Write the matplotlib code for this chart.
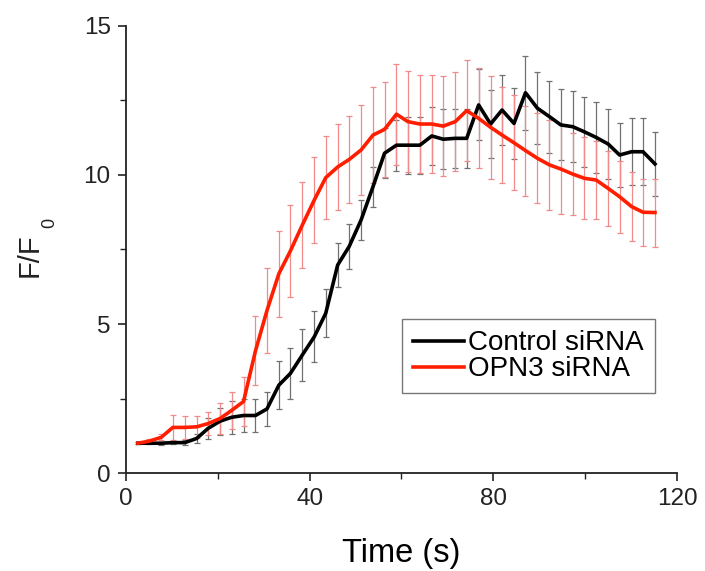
import matplotlib.pyplot as plt
from matplotlib.ticker import MultipleLocator

plt.rcParams['font.family'] = ['Liberation Sans', 'DejaVu Sans']

# time points (s)
time_s = [2.6, 5.1, 7.7, 10.2, 12.8, 15.4, 17.9, 20.5, 23.0, 25.6,
          28.2, 30.7, 33.3, 35.8, 38.4, 41.0, 43.5, 46.1, 48.6, 51.2,
          53.8, 56.3, 58.9, 61.4, 64.0, 66.6, 69.1, 71.7, 74.2, 76.8,
          79.4, 81.9, 84.5, 87.0, 89.6, 92.2, 94.7, 97.3, 99.8, 102.4,
          105.0, 107.5, 110.1, 112.6, 115.2]

# Control siRNA
control_mean = [1.0, 1.0, 1.0, 1.02, 1.02, 1.16, 1.5, 1.74, 1.87, 1.93,
                1.93, 2.15, 2.95, 3.34, 3.96, 4.57, 5.36, 6.98, 7.6, 8.49,
                9.61, 10.73, 11.0, 11.0, 11.0, 11.31, 11.2, 11.23, 11.23, 12.35,
                11.71, 12.18, 11.73, 12.76, 12.24, 11.96, 11.68, 11.62, 11.45, 11.26,
                11.04, 10.67, 10.78, 10.78, 10.37]
control_err = [0.03, 0.03, 0.05, 0.06, 0.08, 0.15, 0.35, 0.45, 0.55, 0.56,
               0.56, 0.57, 0.81, 0.85, 0.87, 0.86, 0.8, 0.75, 0.77, 0.67,
               0.67, 0.84, 0.86, 0.95, 0.95, 0.98, 1.0, 1.0, 1.0, 1.19,
               1.15, 1.18, 1.2, 1.24, 1.2, 1.21, 1.19, 1.2, 1.17, 1.2,
               1.17, 1.06, 1.13, 1.13, 1.06]

# OPN3 siRNA
opn3_mean = [1.0, 1.07, 1.2, 1.53, 1.53, 1.55, 1.66, 1.83, 2.1, 2.4,
             4.1, 5.45, 6.69, 7.45, 8.32, 9.16, 9.91, 10.27, 10.52, 10.84,
             11.34, 11.53, 12.04, 11.79, 11.71, 11.71, 11.64, 11.79, 12.16, 11.9,
             11.6, 11.34, 11.08, 10.82, 10.56, 10.34, 10.2, 10.03, 9.89, 9.83,
             9.55, 9.27, 8.94, 8.75, 8.74]
opn3_err = [0.03, 0.06, 0.1, 0.43, 0.38, 0.36, 0.39, 0.52, 0.62, 0.82,
            1.16, 1.43, 1.44, 1.53, 1.45, 1.45, 1.4, 1.44, 1.47, 1.51,
            1.62, 1.6, 1.7, 1.7, 1.64, 1.65, 1.69, 1.67, 1.69, 1.68,
            1.72, 1.6, 1.6, 1.51, 1.51, 1.51, 1.51, 1.37, 1.37, 1.31,
            1.26, 1.2, 1.16, 1.13, 1.14]

fig = plt.figure(figsize=(7.05, 5.71), dpi=100)
ax = fig.add_axes([0.1787, 0.1716, 0.7816, 0.7829])

# error bars behind the lines
ax.errorbar(time_s, control_mean, yerr=control_err, fmt='none',
            ecolor='#707070', elinewidth=0.9, capsize=2.5, capthick=0.9, zorder=1)
ax.errorbar(time_s, opn3_mean, yerr=opn3_err, fmt='none',
            ecolor='#f28a8a', elinewidth=0.9, capsize=2.5, capthick=0.9, zorder=1)

ax.plot(time_s, control_mean, color='black', lw=2.6, label='Control siRNA', zorder=3)
ax.plot(time_s, opn3_mean, color='#ff1e00', lw=2.6, label='OPN3 siRNA', zorder=4)

ax.set_xlim(0, 120)
ax.set_ylim(0, 15)
ax.xaxis.set_major_locator(MultipleLocator(40))
ax.xaxis.set_minor_locator(MultipleLocator(20))
ax.yaxis.set_major_locator(MultipleLocator(5))
ax.yaxis.set_minor_locator(MultipleLocator(2.5))

for side in ['top', 'right']:
    ax.spines[side].set_visible(False)
for side in ['left', 'bottom']:
    ax.spines[side].set_linewidth(1.3)
    ax.spines[side].set_color('#222222')

ax.tick_params(which='major', direction='out', length=6, width=1.2,
               labelsize=17.5, colors='#222222', pad=5)
ax.tick_params(which='minor', direction='out', length=4, width=1.0, colors='#222222')

ax.set_xlabel('Time (s)', fontsize=23.5, labelpad=20)
# y label with the low-set subscript, as in the original
fig.text(0.0425, 0.553, 'F/F', rotation=90, ha='center', va='center',
         fontsize=21, color='#222222')
fig.text(0.0700, 0.609, '0', rotation=90, ha='center', va='center',
         fontsize=13, color='#222222')

leg = ax.legend(loc='lower right', bbox_to_anchor=(0.96, 0.178), fontsize=20,
                frameon=True, fancybox=False, handlelength=1.85, handletextpad=0.15,
                borderpad=0.4, labelspacing=0.0, borderaxespad=0)
leg.get_frame().set_edgecolor('#555555')
leg.get_frame().set_linewidth(1.0)

fig.savefig('out.png', dpi=100)
